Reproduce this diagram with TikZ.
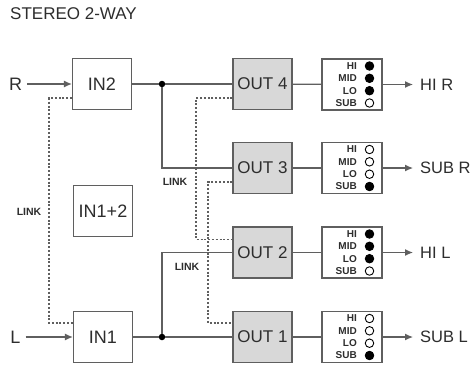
\documentclass[tikz,border=0pt]{standalone}
\usepackage{fontspec}
\setmainfont{Liberation Sans}
\usetikzlibrary{arrows.meta}
\definecolor{ln}{RGB}{95,95,95}
\definecolor{tx}{RGB}{45,45,45}
\definecolor{boxfill}{RGB}{216,216,216}
\begin{document}
\begin{tikzpicture}[x=1pt,y=-1pt,
 every node/.style={text=tx},
 blk/.style={draw=ln, line width=1.2pt, minimum width=59pt, minimum height=51pt, inner sep=0pt, font=\fontsize{18}{18}\selectfont, fill=white},
 outblk/.style={blk, fill=boxfill, font=\fontsize{17}{17}\selectfont},
 indblk/.style={draw=ln, line width=1.2pt, minimum width=60pt, minimum height=51pt, inner sep=0pt, fill=white},
 wire/.style={draw=ln, line width=1.2pt},
 linkw/.style={draw=ln, line width=1.4pt, dash pattern=on 2pt off 1.8pt},
 arr/.style={wire, -{Latex[length=8pt,width=7pt]}},
 lbl/.style={font=\fontsize{18}{18}\selectfont, inner sep=0pt},
 olbl/.style={font=\fontsize{16.5}{16.5}\selectfont, inner sep=0pt, anchor=west},
 tag/.style={font=\bfseries\fontsize{10.5}{10.5}\selectfont, inner sep=0pt},
 itag/.style={font=\bfseries\fontsize{10}{10}\selectfont, inner sep=0pt, anchor=east},
 led/.style={circle, draw=black, line width=0.9pt, minimum size=8.5pt, inner sep=0pt},
 dot/.style={circle, fill=black, inner sep=0pt, minimum size=6.5pt},
]
\fill[white] (0,0) rectangle (474,368);
\useasboundingbox (0,0) rectangle (474,368);

\node[lbl, anchor=west, font=\fontsize{17}{17}\selectfont] (title) at (10,14) {STEREO 2-WAY};

% coordinates for links and junctions
\coordinate (lkL) at (49,211);
\coordinate (lkA) at (196,168);
\coordinate (lkB) at (208,250);

\node[dot] (j2) at (162,84) {};
\node[dot] (j1) at (162,337) {};

% boxes
\node[blk] (in2) at (102,84) {IN2};
\node[blk] (in12) at (103,211) {IN1+2};
\node[blk] (in1) at (103,337) {IN1};

\node[outblk] (o4) at (262.5,84) {OUT 4};
\node[outblk] (o3) at (262.5,168) {OUT 3};
\node[outblk] (o2) at (262.5,252.5) {OUT 2};
\node[outblk] (o1) at (262.5,337) {OUT 1};

\node[indblk] (i4) at (352,84.5) {};
\node[indblk] (i3) at (352,168) {};
\node[indblk] (i2) at (352,252.5) {};
\node[indblk] (i1) at (352,337) {};

% inputs
\node[lbl] (r) at (15.5,84) {R};
\node[lbl] (l) at (15.5,337) {L};
\draw[arr, shorten <=5pt] (r) -- (in2);
\draw[arr, shorten <=5pt] (l) -- (in1);

% signal wires
\draw[wire] (in2) -- (j2) -- (o4);
\draw[wire] (j2) |- (o3);
\draw[wire] (in1) -- (j1) -- (o1);
\draw[wire] (j1) |- (o2);
\draw[wire] (o4) -- (i4);
\draw[wire] (o3) -- (i3);
\draw[wire] (o2) -- (i2);
\draw[wire] (o1) -- (i1);

% link lines
\draw[linkw] ([yshift=-14pt]in2.west) -| (lkL) |- ([yshift=14pt]in1.west);
\draw[linkw] ([yshift=-14pt]o4.west) -| (lkA) |- ([yshift=13pt]o2.west);
\draw[linkw] ([yshift=-14pt]o3.west) -| (lkB) |- ([yshift=14pt]o1.west);

\node[tag] (lt1) at (29,212) {LINK};
\node[tag] (lt2) at (175,182) {LINK};
\node[tag] (lt3) at (187,267) {LINK};

% indicators
\foreach \n/\y/\a/\b/\c/\d in {i4/84.5/black/black/black/white, i3/168/white/white/white/black, i2/252.5/black/black/black/white, i1/337/white/white/white/black}{
  \node[itag] (\n-hi) at (357,\y-18.5) {HI};
  \node[itag] (\n-mid) at (357,\y-6.2) {MID};
  \node[itag] (\n-lo) at (357,\y+6.2) {LO};
  \node[itag] (\n-sub) at (357,\y+18.5) {SUB};
  \node[led, fill=\a] (\n-c1) at (369.5,\y-18.5) {};
  \node[led, fill=\b] (\n-c2) at (369.5,\y-6.2) {};
  \node[led, fill=\c] (\n-c3) at (369.5,\y+6.2) {};
  \node[led, fill=\d] (\n-c4) at (369.5,\y+18.5) {};
}

% outputs
\node[olbl] (hr) at (420,84.5) {HI R};
\node[olbl] (sr) at (420,168) {SUB R};
\node[olbl] (hl) at (420,252.5) {HI L};
\node[olbl] (sl) at (420,337) {SUB L};
\draw[arr, shorten >=7pt] (i4) -- (hr);
\draw[arr, shorten >=7pt] (i3) -- (sr);
\draw[arr, shorten >=7pt] (i2) -- (hl);
\draw[arr, shorten >=7pt] (i1) -- (sl);
\end{tikzpicture}
\end{document}
